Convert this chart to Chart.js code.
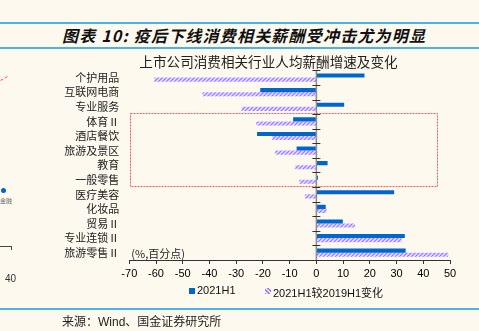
<!DOCTYPE html>
<html><head><meta charset="utf-8">
<script src="https://cdn.jsdelivr.net/npm/chart.js@4"></script>
<style>
html,body{margin:0;padding:0;background:#fdf9ee;width:479px;height:331px;overflow:hidden;position:relative;font-family:"Noto Sans CJK SC",sans-serif;color:#222;}
.hl{position:absolute;left:0;width:479px;height:2px;background:#45b5e6;}
#ptitle{position:absolute;left:62px;top:23px;height:24px;line-height:24px;font-size:16px;font-weight:bold;font-style:italic;letter-spacing:1.2px;white-space:nowrap;color:#111;}
#wrap{position:absolute;left:0;top:0;width:479px;height:331px;}
#src{position:absolute;left:62px;top:312px;line-height:18px;font-size:12px;white-space:nowrap;color:#222;}
#src .lat{font-family:"Liberation Sans",sans-serif;}
.lg{position:absolute;top:284px;height:14px;line-height:14px;font:11px "Liberation Sans","Noto Sans CJK SC",sans-serif;white-space:nowrap;color:#111;}
.sw{position:absolute;top:4px;left:0;width:6px;height:6px;}
.lg span.t{position:absolute;left:8px;top:0;}
.art{position:absolute;}
</style></head><body>
<div class="hl" style="top:22px"></div>
<div id="ptitle">图表 10: 疫后下线消费相关薪酬受冲击尤为明显</div>
<div class="hl" style="top:47px"></div>
<div id="wrap"><canvas id="c" width="479" height="331"></canvas></div>
<div id="legend"></div>
<div class="hl" style="top:308px"></div>
<div id="src">来源：<span class="lat">Wind</span>、国金证券研究所</div>
<div class="art" style="left:1px;top:188px;width:5px;height:5px;border-radius:50%;background:#0066cc"></div>
<div class="art" style="left:0;top:197px;font-size:6px;line-height:8px;color:#666">金融</div>
<div class="art" style="left:0;top:246px;width:11px;height:3px;border-top:1px solid #444;border-right:1px solid #444"></div>
<div class="art" style="left:5px;top:273px;font:10px 'Liberation Sans',sans-serif;line-height:12px;color:#333">40</div>
<div class="art" style="left:0;top:78px;width:8px;border-top:1px dashed #ff6b6b;transform:rotate(-30deg)"></div>
<script>
// ---- data ----
const categories = ['个护用品','互联网电商','专业服务','体育Ⅱ','酒店餐饮','旅游及景区','教育','一般零售','医疗美容','化妆品','贸易Ⅱ','专业连锁Ⅱ','旅游零售Ⅱ'];
const growth2021H1 = [18.0, -21.0, 10.4, -8.7, -22.2, -7.4, 4.2, 0.6, 29.1, 3.5, 9.9, 33.1, 33.4];
const changeVs2019H1 = [-60.7, -42.6, -28.0, -22.5, -16.5, -15.4, -7.9, -6.4, -4.3, 3.8, 14.4, 31.9, 49.3];
const seriesNames = ['2021H1', '2021H1较2019H1变化'];
const xTickValues = [-70, -60, -50, -40, -30, -20, -10, 0, 10, 20, 30, 40, 50];
const chartTitle = '上市公司消费相关行业人均薪酬增速及变化';
const unitLabel = '(%,百分点)';
const highlightCats = ['体育Ⅱ', '一般零售'];
const highlightXRange = [-69.6, 45.2];

// ---- styles ----
const blue = '#0066cc';
function makeHatch(){
  const c = document.createElement('canvas'); c.width = 4; c.height = 4;
  const g = c.getContext('2d');
  g.fillStyle = '#efe9ff'; g.fillRect(0,0,4,4);
  g.strokeStyle = '#9b7cff'; g.lineWidth = 1.4;
  g.beginPath();
  g.moveTo(-1,5); g.lineTo(5,-1);
  g.moveTo(3,5); g.lineTo(5,3);
  g.moveTo(-1,1); g.lineTo(1,-1);
  g.stroke();
  return g.createPattern(c,'repeat');
}
const hatch = makeHatch();

// ---- legend (HTML) ----
(function(){
  const lg = document.getElementById('legend');
  const items = [
    {left:189, sw:'background:'+blue},
    {left:265, sw:'background:repeating-linear-gradient(45deg,#9b7cff 0 1.2px,#efe9ff 1.2px 2.6px)'}
  ];
  seriesNames.forEach((name,i)=>{
    const d = document.createElement('div');
    d.className = 'lg'; d.style.left = items[i].left + 'px';
    d.innerHTML = '<span class="sw" style="'+items[i].sw+'"></span><span class="t"></span>';
    d.querySelector('.t').textContent = name;
    lg.appendChild(d);
  });
})();

const deco = {
  id: 'deco',
  afterLayout(chart){
    // let the category labels extend left of the narrow axis box without clipping
    chart.scales.y.left = 0;
  },
  afterDatasetsDraw(chart){
    const {ctx, scales:{x, y}, chartArea} = chart;
    const n = categories.length;
    const step = (y.getPixelForValue(n-1) - y.getPixelForValue(0)) / (n-1);
    const top = y.getPixelForValue(0) - step/2;
    const bot = y.getPixelForValue(n-1) + step/2;
    const x0 = x.getPixelForValue(0);
    ctx.save();
    const i0 = categories.indexOf(highlightCats[0]), i1 = categories.indexOf(highlightCats[1]);
    const rx0 = Math.round(x.getPixelForValue(highlightXRange[0])) + 0.5;
    const rx1 = Math.round(x.getPixelForValue(highlightXRange[1])) + 0.5;
    const ry0 = Math.round(y.getPixelForValue(i0) - step/2 - 1) + 0.5;
    const ry1 = Math.round(y.getPixelForValue(i1) + step/2 - 1) + 0.5;
    ctx.strokeStyle = '#ff5a5a'; ctx.lineWidth = 1; ctx.setLineDash([2,1]);
    ctx.strokeRect(rx0, ry0, rx1 - rx0, ry1 - ry0);
    ctx.setLineDash([]);
    ctx.strokeStyle = '#8c8c8c'; ctx.lineWidth = 1.5;
    ctx.beginPath(); ctx.moveTo(x0, top); ctx.lineTo(x0, bot); ctx.stroke();
    ctx.strokeStyle = '#333'; ctx.lineWidth = 1;
    for (let i = 0; i < n; i++){
      const yy = Math.round(y.getPixelForValue(i) - step/2) + 0.5;
      ctx.beginPath(); ctx.moveTo(x0-4, yy); ctx.lineTo(x0+4, yy); ctx.stroke();
    }
    ctx.fillStyle = '#222'; ctx.font = '11px "Noto Sans CJK SC"'; ctx.textBaseline = 'middle'; ctx.textAlign = 'left';
    ctx.fillText(unitLabel, chartArea.left + 2, chartArea.bottom - 6);
    ctx.restore();
  }
};

new Chart(document.getElementById('c').getContext('2d'), {
  type: 'bar',
  data: {
    labels: categories,
    datasets: [
      {label: seriesNames[0], data: growth2021H1, backgroundColor: blue, borderWidth: 0, categoryPercentage: 0.56, barPercentage: 1},
      {label: seriesNames[1], data: changeVs2019H1, backgroundColor: hatch, borderWidth: 0, categoryPercentage: 0.56, barPercentage: 1}
    ]
  },
  options: {
    indexAxis: 'y',
    responsive: false,
    animation: false,
    devicePixelRatio: 1,
    layout: {padding: {left: 87, right: 29, top: 54, bottom: 51}},
    plugins: {
      legend: {display: false},
      tooltip: {enabled: false},
      title: {display: true, text: chartTitle, color: '#222',
        font: {family: '"Noto Sans CJK SC"', size: 13.6, weight: 'normal'}, padding: {top: 0, bottom: 0}}
    },
    scales: {
      x: {
        min: xTickValues[0], max: xTickValues[xTickValues.length-1],
        afterBuildTicks(s){ s.ticks = xTickValues.map(v => ({value: v})); },
        ticks: {color: '#000', font: {family: '"Liberation Sans"', size: 11}, padding: 3, maxRotation: 0, autoSkip: false},
        grid: {display: true, drawOnChartArea: false, drawTicks: true, tickLength: 4, color: '#333'},
        border: {display: true, color: '#333', width: 1},
        afterFit(s){ s.height = 20; }
      },
      y: {
        ticks: {color: '#222', font: {family: '"Noto Sans CJK SC"', size: 11}, padding: 10, autoSkip: false},
        grid: {display: false, drawTicks: false},
        border: {display: false},
        afterFit(s){ s.width = 42.3; }
      }
    }
  },
  plugins: [deco]
});
</script>
</body></html>
